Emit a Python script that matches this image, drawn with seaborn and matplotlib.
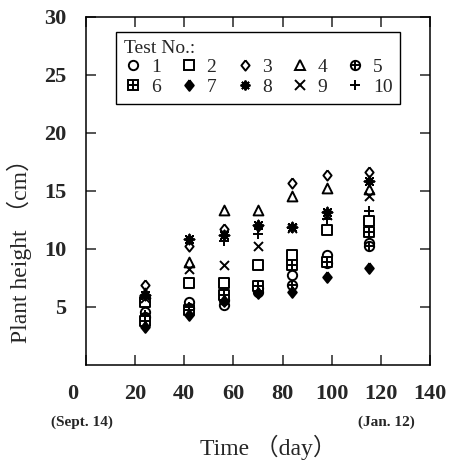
import numpy as np
import pandas as pd
import matplotlib
matplotlib.use("Agg")
import matplotlib.pyplot as plt
import seaborn as sns
from matplotlib.lines import Line2D
from matplotlib.transforms import ScaledTranslation

# ---------------- data ----------------
days = [24, 42, 56, 70, 84, 98, 115]
test_labels = ["1", "2", "3", "4", "5", "6", "7", "8", "9", "10"]
h1 = [4.6, 5.4, 5.2, 6.6, 7.8, 9.5, 10.5]
h2 = [5.4, 7.1, 7.1, 8.6, 9.5, 11.6, 12.4]
h3 = [6.9, 10.3, 11.7, 12.0, 15.7, 16.4, 16.6]
h4 = [6.2, 8.9, 13.4, 13.4, 14.6, 15.3, 15.2]
h5 = [4.1, 4.9, 5.6, 6.3, 6.9, 8.8, 10.3]
h6 = [3.8, 4.7, 6.0, 6.8, 8.6, 8.9, 11.5]
h7 = [3.3, 4.3, 5.5, 6.2, 6.3, 7.6, 8.4]
h8 = [6.0, 10.9, 11.2, 12.1, 11.9, 13.2, 15.9]
h9 = [5.8, 8.3, 8.6, 10.3, 11.8, 12.9, 14.6]
h10 = [4.3, 5.0, 10.7, 11.3, 11.8, 12.6, 13.3]
heights = [h1, h2, h3, h4, h5, h6, h7, h8, h9, h10]
x_ticks = [0, 20, 40, 60, 80, 100, 120, 140]
y_ticks = [5, 10, 15, 20, 25, 30]

df = pd.DataFrame({
    "day": np.tile(days, len(test_labels)),
    "height": np.concatenate(heights),
    "test": np.repeat(test_labels, len(days)),
})

# ---------------- style ----------------
sns.set_style("ticks")
plt.rcParams["font.family"] = ["Liberation Serif", "Noto Sans CJK JP", "DejaVu Sans"]
plt.rcParams["axes.linewidth"] = 1.1

fig = plt.figure(figsize=(4.54, 4.62), dpi=100)
ax = fig.add_axes([86 / 454, 1 - 365 / 462, 344 / 454, 348 / 462])

diamond = [(0, 1), (0.8, 0), (0, -1), (-0.8, 0), (0, 1)]
LW = 1.4
# layers: (marker, size, facecolor) per test; two layers for the crossed symbols
layers = {
    "1": [("o", 45, "white")],
    "2": [("s", 42, "white")],
    "3": [(diamond, 55, "white")],
    "4": [("^", 50, "white")],
    "5": [("o", 45, "white"), ("+", 45, "black")],
    "6": [("s", 42, "white"), ("+", 42, "black")],
    "7": [(diamond, 60, "black")],
    "8": [((8, 2, 0), 50, "black")],
    "9": [("x", 42, "black")],
    "10": [("+", 50, "black")],
}

handles = {}
for t in test_labels:
    sub = df[df["test"] == t]
    parts = []
    for m, s, fc in layers[t]:
        sns.scatterplot(data=sub, x="day", y="height", marker=m, s=s,
                        color="black", facecolor=fc, edgecolor="black",
                        linewidth=LW, ax=ax, legend=False, zorder=3)
        parts.append(Line2D([], [], linestyle="none", marker=m,
                            markersize=np.sqrt(s), markerfacecolor=fc,
                            markeredgecolor="black", markeredgewidth=LW,
                            color="black"))
    handles[t] = tuple(parts) if len(parts) > 1 else parts[0]

ax.set_xlim(0, 140)
ax.set_ylim(0, 30)
ax.set_xticks(x_ticks)
ax.set_yticks(y_ticks)
ax.set_xticklabels([str(v) for v in x_ticks])
ax.set_yticklabels([str(v) for v in y_ticks])
ax.tick_params(direction="in", length=7, width=1.1, top=True, right=True,
               labelsize=16)
ax.tick_params(axis="x", pad=14)
ax.tick_params(axis="y", pad=14)
for lab in ax.get_xticklabels() + ax.get_yticklabels():
    lab.set_fontweight("bold")
# the "0" label sits left of the corner in the original
xl = ax.get_xticklabels()
xl[0].set_transform(xl[0].get_transform() + ScaledTranslation(-13 / 100, 0, fig.dpi_scale_trans))

for sp in ax.spines.values():
    sp.set_color("black")
    sp.set_linewidth(1.1)

ax.set_xlabel("Time （day）", fontsize=17)
ax.xaxis.set_label_coords(0.53, -0.2)
ax.set_ylabel("Plant height （cm）", fontsize=17)
ax.yaxis.set_label_coords(-0.157, 0.345)

fig.text(82 / 454, 1 - 422 / 462, "(Sept. 14)", ha="center", va="center",
         fontsize=11, fontweight="bold")
fig.text(386 / 454, 1 - 422 / 462, "(Jan. 12)", ha="center", va="center",
         fontsize=11, fontweight="bold")

order = ["1", "6", "2", "7", "3", "8", "4", "9", "5", "10"]
leg = ax.legend([handles[t] for t in order], order, ncol=5, title="Test No.:",
                loc="upper left", bbox_to_anchor=(0.087, 0.957),
                frameon=True, fancybox=False, edgecolor="black", framealpha=1,
                fontsize=14, title_fontsize=14, alignment="left",
                handlelength=1.0, handletextpad=0.4, columnspacing=0.95,
                labelspacing=0.1, borderpad=0.4, borderaxespad=0)
leg.get_frame().set_linewidth(1.0)

fig.savefig("out.png", dpi=100)
